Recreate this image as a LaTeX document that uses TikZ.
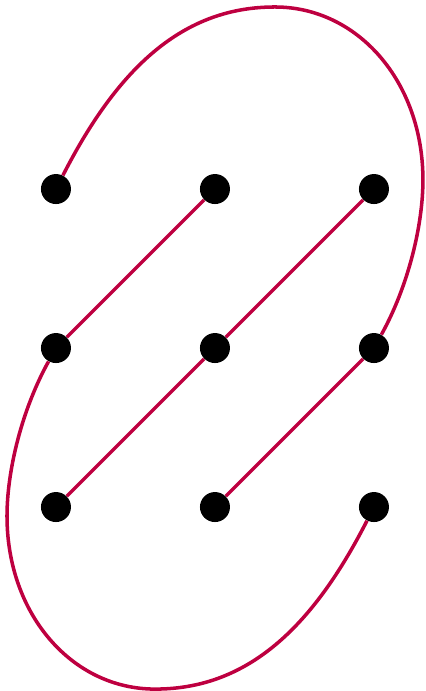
\documentclass[tikz,border=0pt]{standalone}
\definecolor{loopred}{HTML}{BE0040}
\usepackage{tikz}
\usetikzlibrary{calc}

\tikzset{
	dot/.style={circle, fill=black, inner sep=0pt, minimum size=0.6cm},
	link/.style={loopred, line width=2pt},
}

\begin{document}
\begin{tikzpicture}[x=3.18cm, y=3.18cm]
	\useasboundingbox (-0.352,-1.157) rectangle (2.321,3.189);
	% grid of points, column i, row j (row 1 on top)
	\foreach \i in {1,2,3}\foreach \j in {1,2,3}{\node[dot] (p\i\j) at (\i-1,3-\j) {};}
	% straight links
	\draw[link] (p21) -- (p12);
	\draw[link] (p31) -- (p22) -- (p13);
	\draw[link] (p32) -- (p23);
	% the two outer arcs
	\draw[link] (p11) .. controls (0.409,2.802) and (0.827,3.145) .. (1.377,3.145)
		.. controls (1.897,3.145) and (2.308,2.677) .. (2.308,2.057)
		.. controls (2.308,1.777) and (2.218,1.394) .. (p32);
	\draw[link] (p33) .. controls (1.591,-0.802) and (1.173,-1.145) .. (0.623,-1.145)
		.. controls (0.103,-1.145) and (-0.308,-0.677) .. (-0.308,-0.057)
		.. controls (-0.308,0.223) and (-0.218,0.606) .. (p12);
\end{tikzpicture}
\end{document}
